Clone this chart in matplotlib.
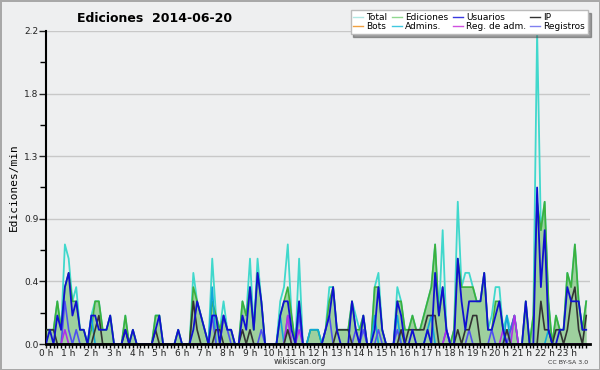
import numpy as np
import matplotlib
matplotlib.use("Agg")
import matplotlib.pyplot as plt
from matplotlib.lines import Line2D

# edits per 10 minutes, one row per hour (6 bins each)
total = [
    1,1,1,3,1,7,  6,3,4,1,1,0,  2,3,3,1,1,2,  0,0,0,2,0,1,
    0,0,0,0,0,2,  2,0,0,0,0,1,  0,0,0,5,3,2,  1,0,6,2,1,3,
    1,1,0,0,3,2,  6,1,6,3,0,0,  0,0,3,4,7,2,  0,6,0,0,1,1,
    1,0,1,4,4,1,  1,1,1,3,2,1,  2,0,0,4,5,1,  0,0,0,4,3,1,
    1,2,1,1,2,3,  4,7,2,8,1,0,  1,10,4,5,5,4, 3,3,5,1,2,4,
    4,1,2,1,2,0,  0,3,0,2,22,8, 10,3,0,2,1,1, 5,4,7,3,1,3,
]
ediciones = [
    1,1,1,3,1,4,  5,3,3,1,1,0,  1,3,3,1,1,2,  0,0,0,2,0,1,
    0,0,0,0,0,2,  2,0,0,0,0,1,  0,0,0,4,3,2,  1,0,3,2,1,2,
    1,1,0,0,3,2,  4,1,5,3,0,0,  0,0,2,3,4,2,  0,3,0,0,1,1,
    1,0,1,3,4,1,  1,1,1,3,1,1,  2,0,0,4,4,1,  0,0,0,3,3,1,
    1,2,1,1,2,3,  4,7,2,4,1,0,  1,6,4,4,4,4,  3,3,5,1,1,3,
    3,1,1,1,2,0,  0,3,0,2,10,8, 10,3,0,2,1,1, 5,4,7,3,1,3,
]
usuarios = [
    0,1,0,2,1,4,  5,2,3,1,1,0,  2,2,1,1,1,2,  0,0,0,1,0,1,
    0,0,0,0,0,1,  2,0,0,0,0,1,  0,0,0,1,3,2,  1,0,2,2,0,2,
    1,1,0,0,2,1,  4,1,5,3,0,0,  0,0,2,3,3,1,  0,3,0,0,0,0,
    0,0,1,2,4,1,  0,0,0,3,1,0,  2,0,0,1,4,1,  0,0,0,3,2,0,
    0,1,0,0,0,1,  0,5,2,4,1,0,  0,6,3,1,3,3,  3,3,5,1,1,2,
    3,1,0,0,0,0,  0,3,0,0,11,4, 8,1,0,0,1,1,  4,3,3,3,1,1,
]
ip = [
    1,1,1,0,0,0,  0,0,0,0,0,0,  0,1,2,0,0,0,  0,0,0,1,0,0,
    0,0,0,0,0,1,  0,0,0,0,0,0,  0,0,0,3,1,0,  0,0,0,1,1,0,
    0,0,0,0,1,0,  1,0,0,0,0,0,  0,0,0,0,1,0,  0,0,0,0,0,0,
    0,0,0,0,0,1,  1,1,1,0,0,0,  0,0,0,0,0,0,  0,0,0,0,1,0,
    1,1,1,1,1,2,  2,2,0,0,0,0,  0,1,0,1,1,2,  2,0,0,0,0,0,
    0,0,1,0,0,0,  0,0,0,0,0,3,  1,1,0,1,1,0,  1,3,4,1,0,2,
]
bots = [0] * 144
admins = [
    0,0,0,0,0,0,  0,0,0,0,0,0,  2,0,0,0,0,0,  0,0,0,0,0,0,
    0,0,0,0,0,0,  0,0,0,0,0,0,  0,0,0,0,0,0,  0,0,4,0,0,0,
    0,0,0,0,0,0,  0,0,0,0,0,0,  0,0,2,0,0,0,  0,0,0,0,1,1,
    1,0,0,0,0,0,  0,0,0,0,0,0,  0,0,0,2,0,0,  0,0,0,2,0,0,
    0,0,0,0,0,1,  2,0,0,0,0,0,  0,0,0,0,0,0,  0,0,0,0,0,0,
    0,0,2,0,0,0,  0,0,0,0,0,0,  0,1,0,0,0,0,  0,0,0,0,0,0,
]
reg_adm = [
    0,0,0,0,0,1,  0,0,0,0,0,0,  0,0,0,0,0,0,  0,0,0,0,0,0,
    0,0,0,0,0,0,  0,0,0,0,0,0,  0,0,0,0,0,0,  0,0,0,0,0,0,
    0,0,0,0,0,0,  0,0,0,0,0,0,  0,0,0,0,2,0,  0,1,0,0,0,0,
    0,0,0,0,0,0,  0,0,0,0,0,0,  0,0,0,0,0,0,  0,0,0,0,0,0,
    0,0,0,0,0,0,  0,0,0,0,1,0,  0,0,0,0,0,0,  0,0,0,0,0,0,
    0,1,0,0,2,0,  0,0,0,0,0,0,  0,0,0,0,0,0,  0,0,0,0,0,0,
]
registros = [
    0,0,0,0,0,3,  1,0,1,0,0,0,  0,0,0,0,0,0,  0,0,0,0,0,0,
    0,0,0,0,0,0,  0,0,0,0,0,0,  0,0,0,0,0,0,  0,0,2,0,0,2,
    1,0,0,0,0,0,  0,0,0,1,0,0,  0,0,0,0,2,0,  0,2,0,0,0,0,
    0,0,1,2,0,0,  0,0,0,0,1,0,  1,0,0,0,1,0,  0,0,0,1,0,0,
    0,0,0,0,0,0,  0,0,0,0,1,0,  0,0,0,0,1,0,  0,0,0,0,1,0,
    0,0,0,1,2,0,  0,0,0,0,0,0,  0,0,0,0,0,0,  0,0,0,0,0,0,
]
hour_labels = [str(h) + " h" for h in range(24)]
ytick_vals = [0, 0.44, 0.88, 1.32, 1.76, 2.2]
ytick_labels = ["0.0", "0.4", "0.9", "1.3", "1.8", "2.2"]

bg = "#eeeff0"
x = np.arange(144) / 6.0

def per_min(v):
    return np.array(v) / 10.0

fig = plt.figure(figsize=(6, 3.7), dpi=100, facecolor=bg)
fig.patch.set_edgecolor("#a8a8a8")
fig.patch.set_linewidth(2)
ax = fig.add_axes([46/600, 1 - 344/370, 544/600, 313/370], facecolor=bg)

ax.plot(x, per_min(bots), color="#ffa030", lw=1, zorder=1)
ax.plot(x, per_min(total), color="#40d8cc", lw=1.3, zorder=2)
ax.fill_between(x, per_min(ediciones), color="#5cb85c", alpha=0.55, lw=0, zorder=3)
ax.plot(x, per_min(ediciones), color="#3cb03c", lw=1.2, zorder=4)
ax.plot(x, per_min(admins), color="#10a8d8", lw=1.2, zorder=5)
ax.plot(x, per_min(registros), color="#5050f0", lw=1.2, zorder=5)
ax.plot(x, per_min(reg_adm), color="#b030e8", lw=1.2, zorder=5)
ax.plot(x, per_min(ip), color="#333333", lw=1.2, zorder=6)
ax.plot(x, per_min(usuarios), color="#1010d0", lw=1.3, zorder=7)

ax.set_xlim(0, 24)
ax.set_ylim(0, 2.2)
ax.set_yticks(ytick_vals)
ax.set_yticklabels(ytick_labels)
ax.set_yticks([0.22, 0.66, 1.1, 1.54, 1.98], minor=True)
ax.set_xticks(range(24))
ax.set_xticklabels(hour_labels)
ax.set_xticks(np.arange(0, 24, 1/6.0), minor=True)
ax.tick_params(axis="both", which="major", labelsize=6.5, colors="#222222", pad=0.5)
ax.tick_params(axis="x", which="major", length=3, width=1)
ax.tick_params(axis="x", which="minor", length=3, width=1)
ax.tick_params(axis="y", which="major", length=5, width=1)
ax.tick_params(axis="y", which="minor", length=4, width=1)
ax.grid(axis="y", color="#c8c8c8", lw=1, zorder=0)
ax.set_axisbelow(True)
for s in ["top", "right"]:
    ax.spines[s].set_visible(False)
ax.spines["left"].set_linewidth(1.5)
ax.spines["bottom"].set_linewidth(2)
ax.spines["bottom"].set_zorder(10)

ax.set_ylabel("Ediciones/min", family="DejaVu Sans Mono", fontsize=8, labelpad=4)
fig.text(155/600, 1 - 18/370, "Ediciones  2014-06-20", ha="center", va="center",
         fontsize=9, fontweight="bold")
fig.text(300/600, 1 - 362/370, "wikiscan.org", ha="center", va="center", fontsize=6, color="#333333")
fig.text(588/600, 1 - 362/370, "CC BY-SA 3.0", ha="right", va="center", fontsize=4.5, color="#333333")

names = ["Total", "Bots", "Ediciones", "Admins.", "Usuarios", "Reg. de adm.", "IP", "Registros"]
cols = ["#b0e8e4", "#f0a040", "#90d890", "#40c8e0", "#3838e0", "#d050e0", "#333333", "#8080f0"]
handles = [Line2D([0], [0], color=c, lw=1) for c in cols]
leg = fig.legend(handles, names, ncol=4, loc="upper right", bbox_to_anchor=(588/600, 1 - 10/370),
                 fontsize=6.5, frameon=True, fancybox=False, shadow=True, handlelength=1.1,
                 handletextpad=0.35, columnspacing=0.5, labelspacing=0.05, borderpad=0.3,
                 borderaxespad=0)
leg.get_frame().set_edgecolor("#bbbbbb")
leg.get_frame().set_facecolor("white")
leg.set_zorder(20)

fig.savefig("out.png", dpi=100, facecolor=bg, edgecolor="#a8a8a8")
